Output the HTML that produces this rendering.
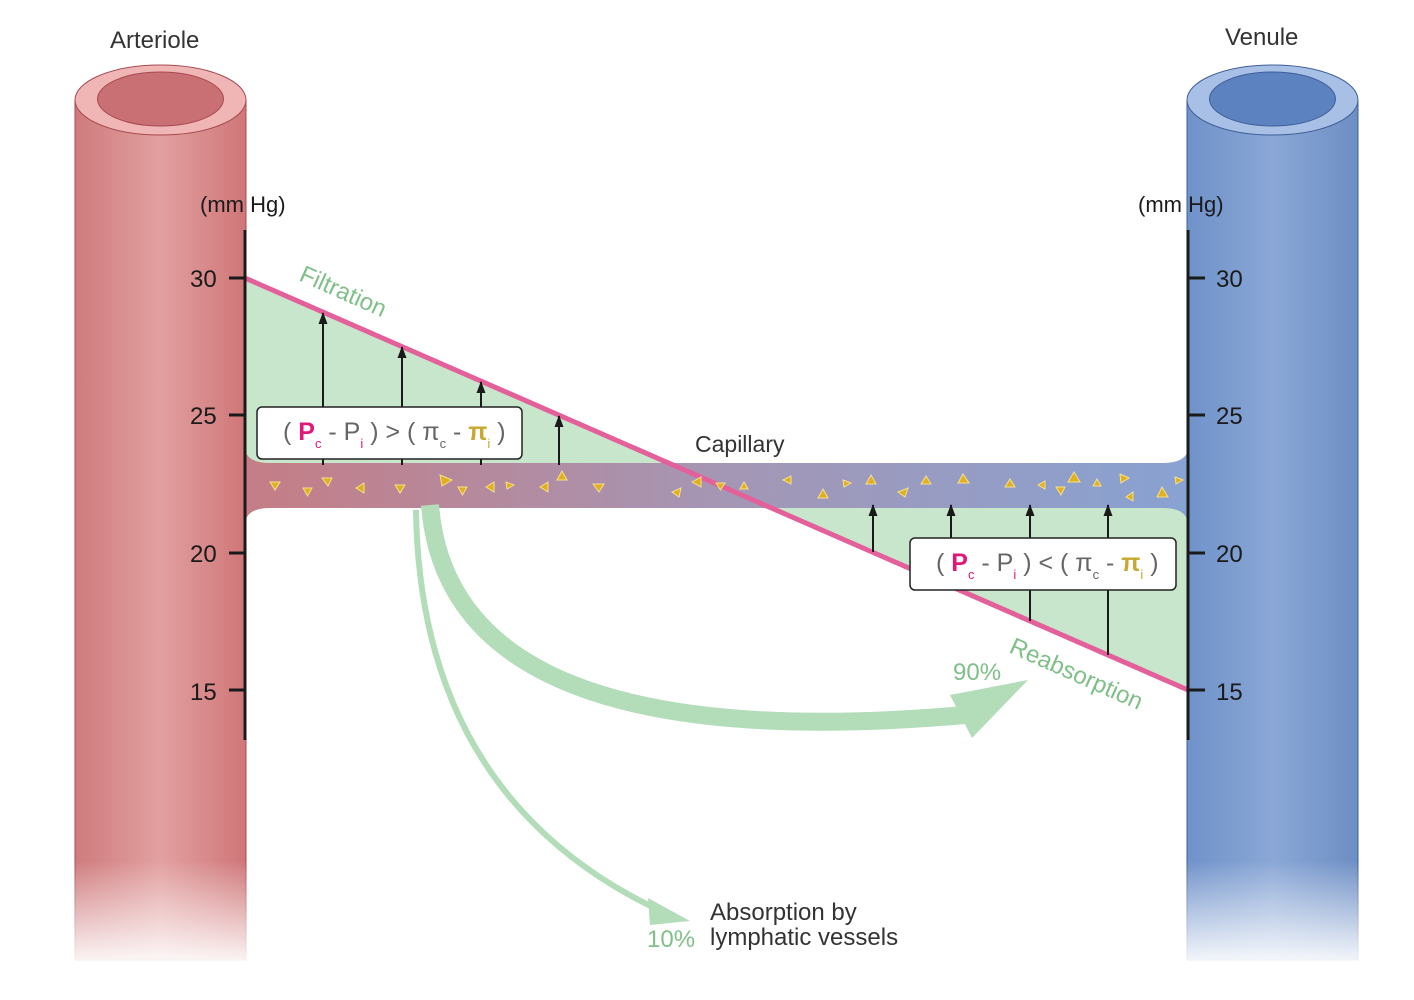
<!DOCTYPE html>
<html><head><meta charset="utf-8"><style>
body{margin:0;background:#fff}
svg{display:block;font-family:"Liberation Sans",sans-serif}
</style></head><body>
<svg width="1414" height="1000" viewBox="0 0 1414 1000" xmlns="http://www.w3.org/2000/svg">
<defs>
<linearGradient id="ar" x1="0" x2="1"><stop offset="0" stop-color="#cf7b7d"/><stop offset="0.5" stop-color="#e2a0a0"/><stop offset="1" stop-color="#cf7678"/></linearGradient>
<linearGradient id="ve" x1="0" x2="1"><stop offset="0" stop-color="#6f92c9"/><stop offset="0.5" stop-color="#8aa7d6"/><stop offset="1" stop-color="#6d8ec4"/></linearGradient>
<linearGradient id="fade" x1="0" y1="0" x2="0" y2="1"><stop offset="0" stop-color="#fff" stop-opacity="0"/><stop offset="1" stop-color="#fff" stop-opacity="1"/></linearGradient>
<linearGradient id="cap" x1="0" x2="1"><stop offset="0" stop-color="#c57d86"/><stop offset="0.5" stop-color="#a596b4"/><stop offset="1" stop-color="#88a2d2"/></linearGradient>
<marker id="ah" markerWidth="12" markerHeight="10" refX="11" refY="4.5" orient="auto" markerUnits="userSpaceOnUse"><path d="M0,0 L12,4.5 L0,9 Z" fill="#1a1a1a"/></marker>
</defs>
<rect x="75" y="100" width="171" height="860" fill="url(#ar)" stroke="#a84a50" stroke-width="1"/>
<ellipse cx="160.5" cy="100" rx="85.5" ry="35" fill="#f0b6b6" stroke="#a84a50"/>
<ellipse cx="160.5" cy="99" rx="63" ry="27" fill="#c97074" stroke="#a84a50"/>
<rect x="70" y="860" width="185" height="110" fill="url(#fade)"/>
<rect x="1187" y="100" width="171" height="860" fill="url(#ve)" stroke="#3f5f99" stroke-width="1"/>
<ellipse cx="1272.5" cy="100" rx="85.5" ry="35" fill="#a9c0e6" stroke="#3f5f99"/>
<ellipse cx="1272.5" cy="99" rx="63" ry="27" fill="#5c82bf" stroke="#3f5f99"/>
<rect x="1180" y="860" width="185" height="110" fill="url(#fade)"/>
<polygon points="245,278 673,465 245,465" fill="#c8e6cc"/>
<polygon points="771,508 1188,690 1188,508" fill="#c8e6cc"/>
<path d="M245,450 Q248,463 270,463 L1163,463 Q1185,463 1188,450 L1188,522 Q1185,508 1163,508 L270,508 Q248,508 245,522 Z" fill="url(#cap)"/>
<path d="M416,510 Q420,800 665,913" fill="none" stroke="#b3dcb9" stroke-width="6"/>
<polygon points="648,898 690,921 650,925" fill="#b3dcb9"/>
<path d="M430,505 Q450,760 965,715" fill="none" stroke="#b3dcb9" stroke-width="18"/>
<polygon points="950,695 1028,680 972,738" fill="#b3dcb9"/>
<line x1="245" y1="278" x2="1188" y2="690" stroke="#e3609a" stroke-width="5"/>
<g stroke="#1a1a1a" stroke-width="2" marker-end="url(#ah)">
<line x1="323" y1="465" x2="323" y2="313"/>
<line x1="402" y1="465" x2="402" y2="347"/>
<line x1="481" y1="465" x2="481" y2="382"/>
<line x1="559" y1="465" x2="559" y2="416"/>
<line x1="873" y1="552" x2="873" y2="505"/>
<line x1="951" y1="587" x2="951" y2="505"/>
<line x1="1030" y1="621" x2="1030" y2="505"/>
<line x1="1108" y1="655" x2="1108" y2="505"/>
</g>
<g fill="#e0b020" stroke="#f5e090" stroke-width="1">
<path d="M270,482 l10,0 -5,8z"/><path d="M303,488 l9,0 -4.5,8z"/><path d="M322,478 l10,0 -4,8z"/><path d="M356,488 l8,-5 0,10z"/>
<path d="M395,485 l10,0 -5,8z"/><path d="M440,475 l12,5 -10,6z"/><path d="M458,487 l9,0 -4.5,8z"/><path d="M486,487 l8,-5 0,10z"/>
<path d="M506,482 l8,3 -7,4z"/><path d="M540,487 l8,-5 0,10z"/><path d="M557,480 l5,-9 5,9z"/><path d="M593,484 l11,0 -5,8z"/>
<path d="M672,492 l9,-4 -2,9z"/><path d="M692,482 l9,-5 0,10z"/><path d="M716,483 l9,0 -4.5,7z"/><path d="M740,489 l4,-7 4,7z"/>
<path d="M783,480 l8,-4 0,8z"/><path d="M818,498 l5,-9 5,9z"/><path d="M843,480 l8,3 -7,4z"/><path d="M866,484 l5,-9 5,9z"/>
<path d="M898,492 l10,-4 -3,9z"/><path d="M921,484 l5,-8 5,8z"/><path d="M958,483 l5,-9 6,9z"/><path d="M1005,487 l5,-8 5,8z"/>
<path d="M1038,485 l7,-4 0,8z"/><path d="M1056,487 l9,0 -4,8z"/><path d="M1068,482 l6,-10 6,10z"/><path d="M1093,486 l4,-7 4,7z"/>
<path d="M1120,474 l9,4 -8,5z"/><path d="M1126,497 l7,-5 0,9z"/><path d="M1157,497 l5,-10 6,10z"/><path d="M1175,477 l8,3 -7,4z"/>
</g>
<g stroke="#1a1a1a" stroke-width="3">
<line x1="245" y1="230" x2="245" y2="740"/>
<line x1="229" y1="278" x2="245" y2="278"/><line x1="229" y1="415" x2="245" y2="415"/><line x1="229" y1="553" x2="245" y2="553"/><line x1="229" y1="690" x2="245" y2="690"/>
<line x1="1188" y1="230" x2="1188" y2="740"/>
<line x1="1188" y1="278" x2="1205" y2="278"/><line x1="1188" y1="415" x2="1205" y2="415"/><line x1="1188" y1="553" x2="1205" y2="553"/><line x1="1188" y1="690" x2="1205" y2="690"/>
</g>
<g font-size="24" fill="#1a1a1a">
<text x="190" y="287">30</text><text x="190" y="424">25</text><text x="190" y="562">20</text><text x="190" y="700">15</text>
<text x="1216" y="287">30</text><text x="1216" y="424">25</text><text x="1216" y="562">20</text><text x="1216" y="700">15</text>
<text x="200" y="212" font-size="22">(mm Hg)</text><text x="1138" y="212" font-size="22">(mm Hg)</text>
</g>
<g font-size="24" fill="#333">
<text x="110" y="48">Arteriole</text><text x="1225" y="45">Venule</text>
<text x="695" y="452" font-size="23">Capillary</text>
<text x="710" y="920">Absorption by</text><text x="710" y="945">lymphatic vessels</text>
</g>
<g font-size="24" fill="#7fbf88">
<text transform="translate(298,280) rotate(24)">Filtration</text>
<text transform="translate(1008,652) rotate(24)">Reabsorption</text>
<text x="953" y="680">90%</text><text x="647" y="947">10%</text>
</g>
<rect x="257" y="407" width="265" height="52" rx="5" fill="#fff" stroke="#222" stroke-width="1.5"/>
<text x="283" y="440" font-size="25" fill="#666">( <tspan fill="#e0187a" font-weight="bold">P</tspan><tspan fill="#e0187a" font-size="13" dy="8">c</tspan><tspan dy="-8"> - P</tspan><tspan fill="#e0187a" font-size="13" dy="8">i</tspan><tspan dy="-8"> ) &gt; ( π</tspan><tspan font-size="13" dy="8">c</tspan><tspan dy="-8"> - </tspan><tspan fill="#c8a830" font-weight="bold">π</tspan><tspan fill="#c8a830" font-size="13" dy="8">i</tspan><tspan dy="-8"> )</tspan></text>
<rect x="910" y="538" width="266" height="52" rx="5" fill="#fff" stroke="#222" stroke-width="1.5"/>
<text x="936" y="571" font-size="25" fill="#666">( <tspan fill="#e0187a" font-weight="bold">P</tspan><tspan fill="#e0187a" font-size="13" dy="8">c</tspan><tspan dy="-8"> - P</tspan><tspan fill="#e0187a" font-size="13" dy="8">i</tspan><tspan dy="-8"> ) &lt; ( π</tspan><tspan font-size="13" dy="8">c</tspan><tspan dy="-8"> - </tspan><tspan fill="#c8a830" font-weight="bold">π</tspan><tspan fill="#c8a830" font-size="13" dy="8">i</tspan><tspan dy="-8"> )</tspan></text>
</svg>
</body></html>
